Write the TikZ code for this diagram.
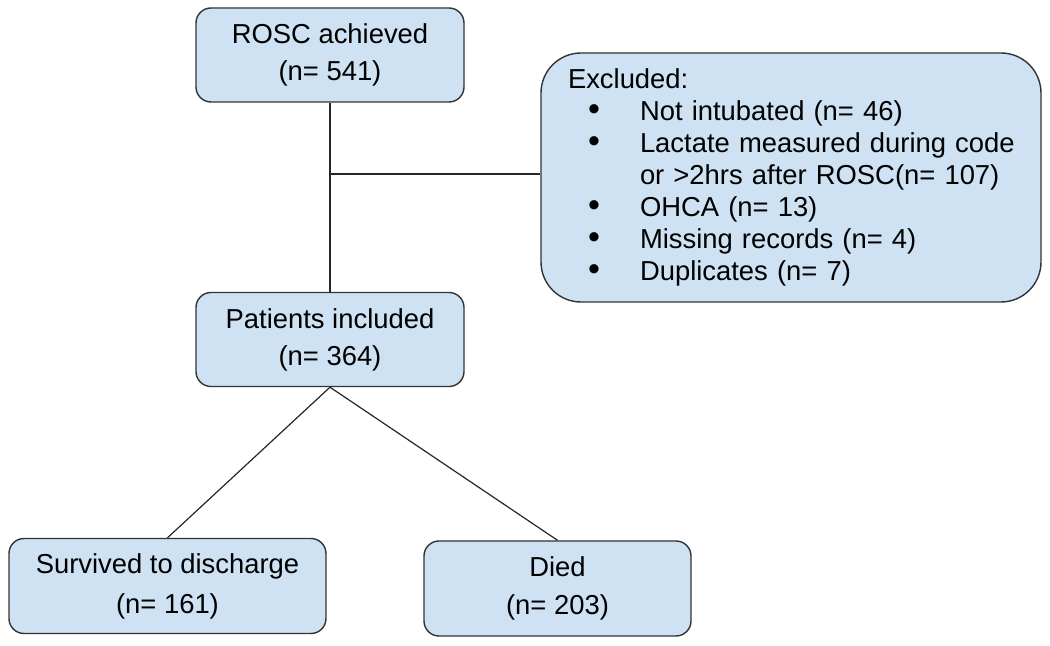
\documentclass[tikz,border=0pt]{standalone}
\usepackage{fontspec}
\setmainfont{Liberation Sans}
\definecolor{boxblue}{HTML}{CFE2F3}
\definecolor{boxline}{HTML}{333333}
\newcommand{\exitem}[1]{\mbox{\makebox[36pt][l]{\hspace{10pt}\fontsize{17pt}{16pt}\selectfont\textbullet}#1}}
\newcommand{\exmore}[1]{\mbox{\hspace*{36pt}#1}}
\begin{document}
\begin{tikzpicture}[x=0.5pt,y=-0.5pt,
        box/.style={draw=boxline, fill=boxblue, line width=0.7pt, rounded corners=7.5pt,
            minimum width=134pt, minimum height=47pt, align=center,
            font=\fontsize{13.7pt}{18.5pt}\selectfont},
        link/.style={draw=black!85, line width=0.6pt}]
        \useasboundingbox (0,0) rectangle (1050,646);

        % boxes
        \node[box] (rosc) at (330,55) {ROSC achieved\\(n= 541)};
        \node[box] (incl) at (330,339.5) {Patients included\\(n= 364)};
        \node[box, minimum width=158.5pt, minimum height=47.5pt,
            font=\fontsize{13.7pt}{20pt}\selectfont] (surv) at (167.5,586) {Survived to discharge\\(n= 161)};
        \node[box, minimum width=133.5pt, minimum height=47.5pt,
            font=\fontsize{13.7pt}{19pt}\selectfont] (died) at (557.5,588.5) {Died\\(n= 203)};
        \node[box, rounded corners=20pt, minimum height=124.5pt, align=left,
            text width=223pt, inner xsep=13.5pt,
            font=\fontsize{13.7pt}{16pt}\selectfont] (excl) at (791,177.5)
            {Excluded:\\
            \exitem{Not intubated (n= 46)}\\
            \exitem{Lactate measured during code}\\
            \exmore{or >2hrs after ROSC(n= 107)}\\
            \exitem{OHCA (n= 13)}\\
            \exitem{Missing records (n= 4)}\\
            \exitem{Duplicates (n= 7)}};

        % connectors
        \coordinate (jn) at (330,174);
        \draw[link] (rosc.south) -- (incl.north);
        \draw[link] (jn) -- (jn -| excl.west);
        \draw[link] (incl.south) -- (surv.north);
        \draw[link] (incl.south) -- (died.north);
\end{tikzpicture}
\end{document}
